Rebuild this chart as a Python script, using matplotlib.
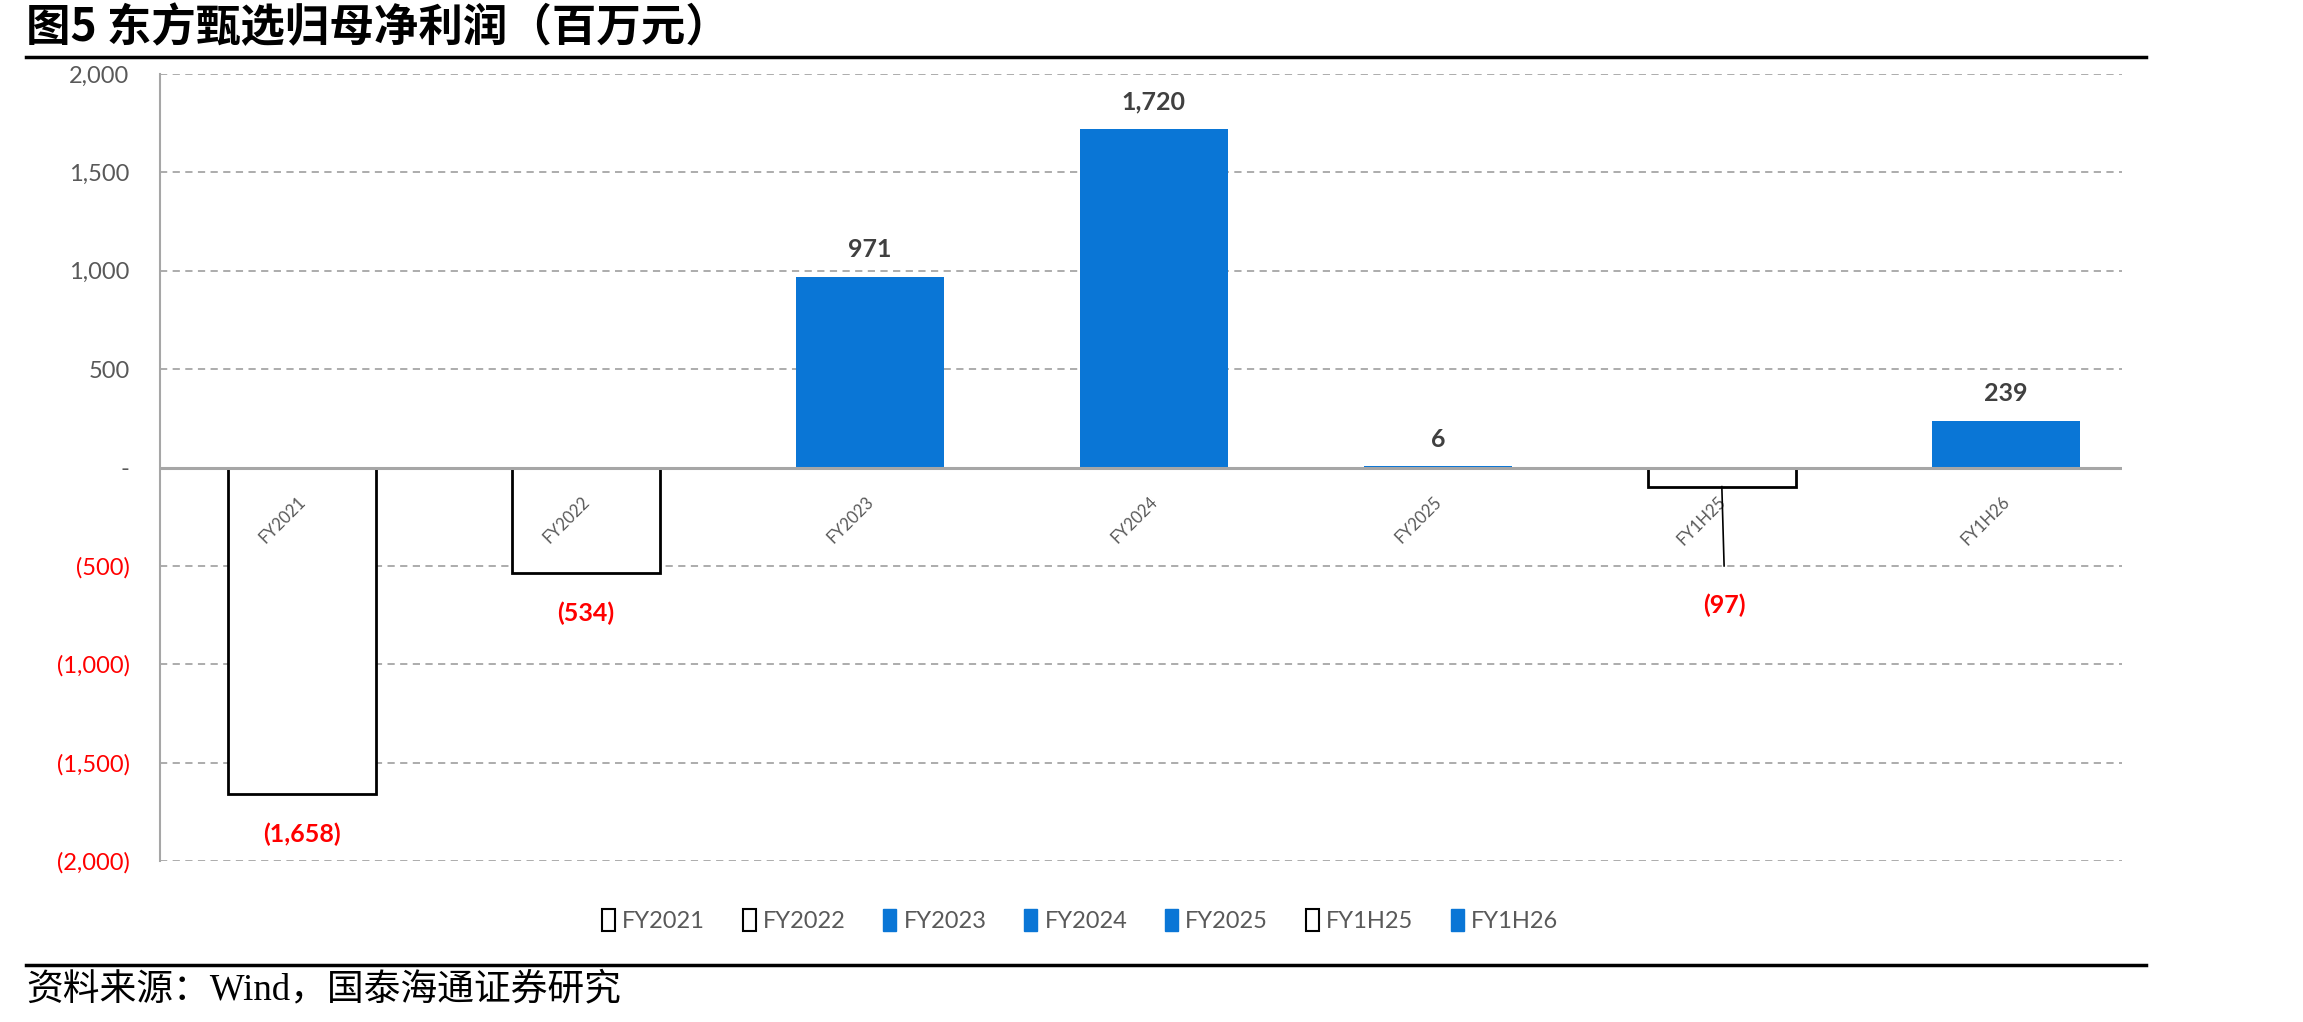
import matplotlib
matplotlib.use("Agg")
import matplotlib.pyplot as plt
from matplotlib.patches import Patch
from matplotlib.lines import Line2D

plt.rcParams['font.family'] = ['Lato', 'Noto Sans CJK SC', 'DejaVu Sans']

# 数据
categories = ['FY2021', 'FY2022', 'FY2023', 'FY2024', 'FY2025', 'FY1H25', 'FY1H26']
values = [-1658, -534, 971, 1720, 6, -97, 239]
yticks = [-2000, -1500, -1000, -500, 0, 500, 1000, 1500, 2000]

title = '图5 东方甄选归母净利润（百万元）'
source = '资料来源：Wind，国泰海通证券研究'

blue = '#0A76D6'
gray_txt = '#595959'
red = '#FF0000'
grid_c = '#A6A6A6'


def fmt(v):
    if v == 0:
        return '-'
    s = f'{abs(v):,}'
    return f'({s})' if v < 0 else s


fig = plt.figure(figsize=(23.03, 10.22), dpi=100)
ax = fig.add_axes([0.0695, 0.1575, 0.852, 0.770])

for i, v in enumerate(values):
    if v < 0:
        ax.bar(i, v, width=0.52, color='white', edgecolor='black', linewidth=2, zorder=3)
    else:
        ax.bar(i, v, width=0.52, color=blue, linewidth=0, zorder=3)

ax.set_xlim(-0.5, 6.41)
ax.set_ylim(-2000, 2000)
ax.set_yticks(yticks)
ax.set_yticklabels([fmt(t) for t in yticks], fontsize=17)
for lab, t in zip(ax.get_yticklabels(), yticks):
    lab.set_color(red if t < 0 else gray_txt)
ax.tick_params(axis='y', length=0, pad=22)
ax.set_xticks([])

for sp in ['top', 'right', 'bottom']:
    ax.spines[sp].set_visible(False)
ax.spines['left'].set_color(grid_c)
ax.spines['left'].set_linewidth(1.5)
ax.set_axisbelow(True)
ax.yaxis.grid(True, color=grid_c, linestyle=(0, (4, 3)), linewidth=1.3, zorder=0)
ax.axhline(0, color=grid_c, linewidth=2.2, zorder=4)

# 横轴标签（斜放在零线下方）
for i, c in enumerate(categories):
    ax.annotate(c, (i, 0), xytext=(5, -19), textcoords='offset points',
                rotation=45, ha='right', va='top', fontsize=12, color=gray_txt, zorder=4)

# 数据标签
for i, v in enumerate(values):
    if v >= 0:
        ax.annotate(fmt(v), (i, v), xytext=(0, 19.5), textcoords='offset points',
                    ha='center', va='center', fontsize=18, fontweight='bold', color='#404040', zorder=5)
    elif categories[i] == 'FY1H25':
        ax.plot([i, i + 0.008], [v, -500], color='black', linewidth=1.2, zorder=4)
        ax.annotate(fmt(v), (i + 0.008, -500), xytext=(0, -28), textcoords='offset points',
                    ha='center', va='center', fontsize=18, fontweight='bold', color=red, zorder=5)
    else:
        ax.annotate(fmt(v), (i, v), xytext=(0, -29.5), textcoords='offset points',
                    ha='center', va='center', fontsize=18, fontweight='bold', color=red, zorder=5)

# 图例
handles = []
for v in values:
    if v < 0:
        handles.append(Patch(facecolor='white', edgecolor='black', linewidth=1.5))
    else:
        handles.append(Patch(facecolor=blue, edgecolor=blue))
leg = fig.legend(handles, categories, loc='center', bbox_to_anchor=(0.469, 0.099), ncol=7,
                 frameon=False, fontsize=17, handlelength=0.55, handleheight=1.0,
                 handletextpad=0.3, columnspacing=1.6)
for t in leg.get_texts():
    t.set_color(gray_txt)

# 标题、分隔线、来源
fig.text(0.0113, 0.973, title, fontsize=32, fontweight='bold', va='center', ha='left',
         family=['Noto Sans CJK SC', 'DejaVu Sans'])
fig.add_artist(Line2D([0.0113, 0.932], [0.944, 0.944], color='black', linewidth=2.5))
fig.add_artist(Line2D([0.0113, 0.932], [0.056, 0.056], color='black', linewidth=2.5))
fig.text(0.0113, 0.031, source, fontsize=26.5, va='center', ha='left',
         family=['Liberation Serif', 'Noto Sans CJK SC', 'DejaVu Sans'])

fig.savefig('out.png', dpi=100)
